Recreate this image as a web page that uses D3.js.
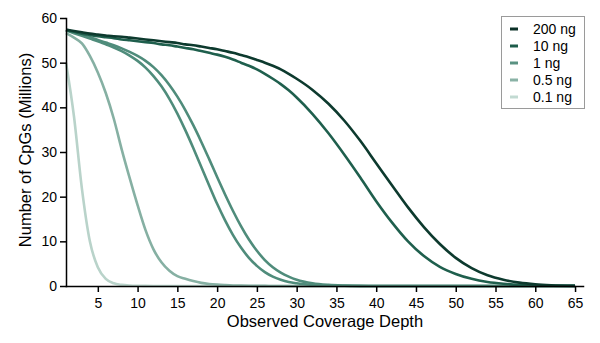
<!DOCTYPE html>
<html>
<head>
<meta charset="utf-8">
<script src="https://cdnjs.cloudflare.com/ajax/libs/d3/7.8.5/d3.min.js"></script>
<style>
  body { margin: 0; background: #fff; }
  svg { font-family: "Liberation Sans", Arial, Helvetica, sans-serif; }
  .axis path, .axis line { stroke: #000; stroke-width: 1.5px; }
  .axis text { font-size: 14px; fill: #000; }
</style>
</head>
<body>
<div id="chart"></div>
<script>
// coverage depths (x values)
var depth = [1, 2, 3, 4, 5, 6, 7, 8, 9, 10, 11, 12, 13, 14, 15, 16, 17, 18, 19, 20,
  21, 22, 23, 24, 25, 26, 27, 28, 29, 30, 32, 34, 36, 38, 40, 42, 44, 46, 48, 50,
  52, 54, 56, 58, 60, 62, 65];

// number of CpGs (millions) at each depth
var cpg200 = [57.4, 57.1, 56.8, 56.5, 56.3, 56.1, 55.9, 55.8, 55.6, 55.4, 55.2, 55.0, 54.8, 54.6, 54.4, 54.1, 53.9, 53.6, 53.3, 53.0,
  52.6, 52.2, 51.7, 51.2, 50.6, 50.0, 49.3, 48.5, 47.5, 46.4, 43.9, 40.8, 37.0, 32.5, 27.5, 22.5, 17.6, 13.2, 9.4, 6.3,
  4.0, 2.4, 1.4, 0.75, 0.38, 0.18, 0.05];
var cpg10 = [57.3, 56.9, 56.5, 56.2, 55.9, 55.7, 55.5, 55.2, 55.0, 54.8, 54.6, 54.4, 54.1, 53.9, 53.6, 53.3, 53.0, 52.6, 52.2, 51.8,
  51.3, 50.7, 50.0, 49.3, 48.5, 47.5, 46.4, 45.2, 43.8, 42.2, 38.5, 34.2, 29.4, 24.3, 19.0, 14.2, 10.0, 6.7, 4.3, 2.7,
  1.6, 0.9, 0.5, 0.25, 0.12, 0.06, 0.02];
var cpg1a = [57.2, 56.6, 56.0, 55.4, 54.8, 54.1, 53.4, 52.6, 51.6, 50.4, 48.9, 47.0, 44.7, 41.9, 38.6, 34.9, 30.9, 26.7, 22.5, 18.4,
  14.7, 11.4, 8.6, 6.3, 4.5, 3.1, 2.1, 1.4, 0.9, 0.6, 0.25, 0.1, 0.04, 0.01, 0, 0, 0, 0, 0, 0,
  0, 0, 0, 0, 0, 0, 0];
var cpg1b = [57.3, 56.8, 56.2, 55.7, 55.1, 54.5, 53.9, 53.2, 52.4, 51.5, 50.4, 49.0, 47.2, 45.0, 42.4, 39.4, 36.0, 32.3, 28.4, 24.4,
  20.5, 16.8, 13.4, 10.4, 7.9, 5.8, 4.2, 3.0, 2.1, 1.4, 0.6, 0.25, 0.1, 0.03, 0.01, 0, 0, 0, 0, 0,
  0, 0, 0, 0, 0, 0, 0];
var cpg05 = [56.6, 55.6, 54.3, 51.5, 47.8, 43.2, 37.5, 30.6, 24.2, 18.1, 12.5, 8.2, 5.3, 3.4, 2.2, 1.6, 1.1, 0.7, 0.45, 0.3,
  0.2, 0.12, 0.08, 0.05, 0.03, 0.02, 0.01, 0, 0, 0, 0, 0, 0, 0, 0, 0, 0, 0, 0, 0,
  0, 0, 0, 0, 0, 0, 0];
var cpg01 = [50.0, 38.0, 21.8, 10.0, 4.2, 1.6, 0.6, 0.25, 0.1, 0.04, 0.02, 0.01, 0, 0, 0, 0, 0, 0, 0, 0,
  0, 0, 0, 0, 0, 0, 0, 0, 0, 0, 0, 0, 0, 0, 0, 0, 0, 0, 0, 0,
  0, 0, 0, 0, 0, 0, 0];

var xTicks = [5, 10, 15, 20, 25, 30, 35, 40, 45, 50, 55, 60, 65];
var yTicks = [0, 10, 20, 30, 40, 50, 60];

var legendNames = ["200 ng", "10 ng", "1 ng", "0.5 ng", "0.1 ng"];
var legendColors = ["#0b3027", "#1d5c4a", "#5a9282", "#8ab2a6", "#c2dad2"];

// drawn back to front, lightest first
var series = [
  {name: "0.1 ng", values: cpg01, color: "#b9d3ca"},
  {name: "0.5 ng", values: cpg05, color: "#86b0a3"},
  {name: "1 ng", values: cpg1b, color: "#4f8c7b"},
  {name: "1 ng", values: cpg1a, color: "#4f8c7b"},
  {name: "10 ng", values: cpg10, color: "#1f5f4d"},
  {name: "200 ng", values: cpg200, color: "#0d3a2e"}
];

var W = 600, H = 343,
    margin = {top: 18, right: 17, bottom: 57, left: 66},
    width = W - margin.left - margin.right,
    height = H - margin.top - margin.bottom;

var svg = d3.select("#chart").append("svg").attr("width", W).attr("height", H),
    g = svg.append("g").attr("transform", "translate(" + margin.left + "," + margin.top + ")");

var x = d3.scaleLinear().domain([1, 66]).range([0, width]);
var y = d3.scaleLinear().domain([0, 60]).range([height, 0]);

var line = d3.line()
    .curve(d3.curveMonotoneX)
    .x(function(d) { return x(d.depth); })
    .y(function(d) { return y(d.value); });

g.selectAll(".curve")
  .data(series)
  .enter().append("path")
    .attr("class", "curve")
    .attr("fill", "none")
    .attr("stroke", function(d) { return d.color; })
    .attr("stroke-width", 2.6)
    .attr("d", function(s) {
      return line(depth.map(function(dp, i) { return {depth: dp, value: s.values[i]}; }));
    });

g.append("g")
    .attr("class", "axis")
    .attr("transform", "translate(0," + height + ")")
    .call(d3.axisBottom(x).tickValues(xTicks).tickSize(6).tickPadding(3).tickSizeOuter(0))
    .selectAll("text").attr("dy", "0.9em");

g.append("g")
    .attr("class", "axis")
    .call(d3.axisLeft(y).tickValues(yTicks).tickSize(6).tickPadding(3).tickSizeOuter(0));

g.selectAll(".axis .domain").attr("stroke-linecap", "square");

svg.append("text")
    .attr("x", 325)
    .attr("y", 327)
    .attr("text-anchor", "middle")
    .attr("font-size", 16.5)
    .text("Observed Coverage Depth");

svg.append("text")
    .attr("transform", "translate(31,150) rotate(-90)")
    .attr("text-anchor", "middle")
    .attr("font-size", 16.5)
    .text("Number of CpGs (Millions)");

// legend
var legend = svg.append("g");

legend.append("rect")
    .attr("x", 501.5)
    .attr("y", 16.5)
    .attr("width", 83)
    .attr("height", 92)
    .attr("fill", "#fff")
    .attr("stroke", "#9a9a9a")
    .attr("stroke-width", 1);

var item = legend.selectAll(".item")
  .data(legendNames)
  .enter().append("g")
    .attr("class", "item")
    .attr("transform", function(d, i) { return "translate(510," + (29 + i * 17) + ")"; });

item.append("line")
    .attr("x1", 0)
    .attr("x2", 8)
    .attr("stroke", function(d, i) { return legendColors[i]; })
    .attr("stroke-width", 3);

item.append("text")
    .attr("x", 23)
    .attr("dy", "0.35em")
    .attr("font-size", 14)
    .text(function(d) { return d; });
</script>
</body>
</html>
